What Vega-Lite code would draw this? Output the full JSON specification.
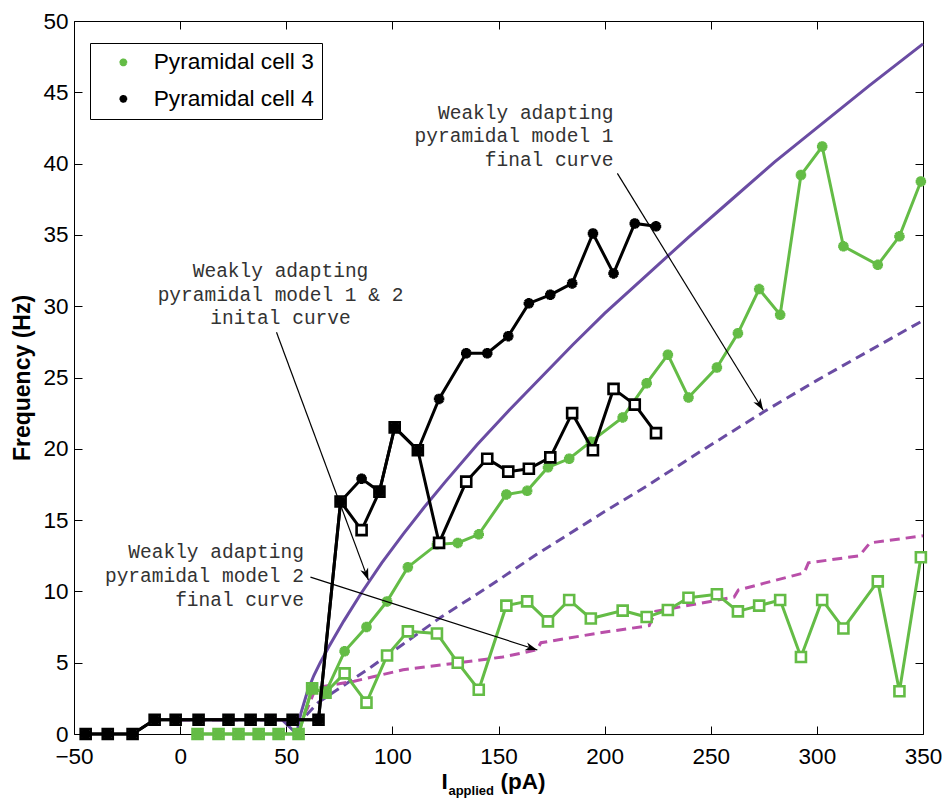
{
  "$schema": "https://vega.github.io/schema/vega-lite/v6.json",
  "width": 849,
  "height": 713,
  "autosize": {"type": "none"},
  "padding": {"left": 74, "top": 21, "right": 19, "bottom": 64},
  "background": "white",
  "config": {
    "view": {"stroke": null},
    "text": {"lineBreak": "\n"},
    "axis": {
      "grid": false,
      "domainColor": "black",
      "domainWidth": 1,
      "tickColor": "black",
      "tickWidth": 1,
      "tickSize": -8,
      "labelFlush": false,
      "labelColor": "black",
      "labelFont": "Liberation Sans",
      "labelFontSize": 22.5,
      "titleFont": "Liberation Sans",
      "titleColor": "black"
    },
    "legend": {
      "orient": "none",
      "legendX": 16,
      "legendY": 22,
      "strokeColor": "black",
      "fillColor": "white",
      "padding": 8,
      "symbolOffset": 14,
      "labelOffset": 19,
      "rowPadding": 12.5,
      "labelFont": "Liberation Sans",
      "labelFontSize": 22.7,
      "labelColor": "black",
      "labelLimit": 400,
      "symbolSize": 60,
      "symbolStrokeWidth": 2.5,
      "symbolType": "M0,-1L0,1M-1,0L1,0M-0.71,-0.71L0.71,0.71M-0.71,0.71L0.71,-0.71"
    }
  },
  "datasets": {
    "cells": [
      {"cell": "Pyramidal cell 4", "phase": "initial", "x": -44.5, "y": 0},
      {"cell": "Pyramidal cell 4", "phase": "initial", "x": -34.1, "y": 0},
      {"cell": "Pyramidal cell 4", "phase": "initial", "x": -22.4, "y": 0},
      {"cell": "Pyramidal cell 4", "phase": "initial", "x": -12.0, "y": 1},
      {"cell": "Pyramidal cell 4", "phase": "initial", "x": -2.1, "y": 1},
      {"cell": "Pyramidal cell 4", "phase": "initial", "x": 8.7, "y": 1},
      {"cell": "Pyramidal cell 4", "phase": "initial", "x": 22.8, "y": 1},
      {"cell": "Pyramidal cell 4", "phase": "initial", "x": 33.2, "y": 1},
      {"cell": "Pyramidal cell 4", "phase": "initial", "x": 42.6, "y": 1},
      {"cell": "Pyramidal cell 4", "phase": "initial", "x": 53.0, "y": 1},
      {"cell": "Pyramidal cell 4", "phase": "initial", "x": 65.2, "y": 1},
      {"cell": "Pyramidal cell 4", "phase": "initial", "x": 75.6, "y": 16.3},
      {"cell": "Pyramidal cell 4", "phase": "initial", "x": 85.5, "y": 17.9},
      {"cell": "Pyramidal cell 4", "phase": "initial", "x": 93.9, "y": 17.0},
      {"cell": "Pyramidal cell 4", "phase": "initial", "x": 101.1, "y": 21.5},
      {"cell": "Pyramidal cell 4", "phase": "initial", "x": 112.0, "y": 19.9},
      {"cell": "Pyramidal cell 4", "phase": "initial", "x": 122.0, "y": 23.5},
      {"cell": "Pyramidal cell 4", "phase": "initial", "x": 134.8, "y": 26.7},
      {"cell": "Pyramidal cell 4", "phase": "initial", "x": 144.7, "y": 26.7},
      {"cell": "Pyramidal cell 4", "phase": "initial", "x": 154.6, "y": 27.9},
      {"cell": "Pyramidal cell 4", "phase": "initial", "x": 164.3, "y": 30.2},
      {"cell": "Pyramidal cell 4", "phase": "initial", "x": 174.4, "y": 30.8},
      {"cell": "Pyramidal cell 4", "phase": "initial", "x": 184.7, "y": 31.6},
      {"cell": "Pyramidal cell 4", "phase": "initial", "x": 194.5, "y": 35.1},
      {"cell": "Pyramidal cell 4", "phase": "initial", "x": 204.2, "y": 32.3},
      {"cell": "Pyramidal cell 4", "phase": "initial", "x": 214.2, "y": 35.8},
      {"cell": "Pyramidal cell 4", "phase": "initial", "x": 224.2, "y": 35.6},
      {"cell": "Pyramidal cell 4", "phase": "final", "x": -44.5, "y": 0},
      {"cell": "Pyramidal cell 4", "phase": "final", "x": -34.1, "y": 0},
      {"cell": "Pyramidal cell 4", "phase": "final", "x": -22.4, "y": 0},
      {"cell": "Pyramidal cell 4", "phase": "final", "x": -12.0, "y": 1},
      {"cell": "Pyramidal cell 4", "phase": "final", "x": -2.1, "y": 1},
      {"cell": "Pyramidal cell 4", "phase": "final", "x": 8.7, "y": 1},
      {"cell": "Pyramidal cell 4", "phase": "final", "x": 22.8, "y": 1},
      {"cell": "Pyramidal cell 4", "phase": "final", "x": 33.2, "y": 1},
      {"cell": "Pyramidal cell 4", "phase": "final", "x": 42.6, "y": 1},
      {"cell": "Pyramidal cell 4", "phase": "final", "x": 53.0, "y": 1},
      {"cell": "Pyramidal cell 4", "phase": "final", "x": 65.2, "y": 1},
      {"cell": "Pyramidal cell 4", "phase": "final", "x": 75.6, "y": 16.3},
      {"cell": "Pyramidal cell 4", "phase": "final", "x": 85.5, "y": 14.3},
      {"cell": "Pyramidal cell 4", "phase": "final", "x": 93.9, "y": 17.0},
      {"cell": "Pyramidal cell 4", "phase": "final", "x": 101.1, "y": 21.5},
      {"cell": "Pyramidal cell 4", "phase": "final", "x": 112.0, "y": 19.9},
      {"cell": "Pyramidal cell 4", "phase": "final", "x": 122.0, "y": 13.4},
      {"cell": "Pyramidal cell 4", "phase": "final", "x": 134.8, "y": 17.7},
      {"cell": "Pyramidal cell 4", "phase": "final", "x": 144.7, "y": 19.3},
      {"cell": "Pyramidal cell 4", "phase": "final", "x": 154.6, "y": 18.4},
      {"cell": "Pyramidal cell 4", "phase": "final", "x": 164.3, "y": 18.6},
      {"cell": "Pyramidal cell 4", "phase": "final", "x": 174.4, "y": 19.4},
      {"cell": "Pyramidal cell 4", "phase": "final", "x": 184.7, "y": 22.5},
      {"cell": "Pyramidal cell 4", "phase": "final", "x": 194.5, "y": 19.9},
      {"cell": "Pyramidal cell 4", "phase": "final", "x": 204.2, "y": 24.2},
      {"cell": "Pyramidal cell 4", "phase": "final", "x": 214.2, "y": 23.1},
      {"cell": "Pyramidal cell 4", "phase": "final", "x": 224.2, "y": 21.1},
      {"cell": "Pyramidal cell 3", "phase": "initial", "x": 8.2, "y": 0},
      {"cell": "Pyramidal cell 3", "phase": "initial", "x": 18.1, "y": 0},
      {"cell": "Pyramidal cell 3", "phase": "initial", "x": 27.5, "y": 0},
      {"cell": "Pyramidal cell 3", "phase": "initial", "x": 37.0, "y": 0},
      {"cell": "Pyramidal cell 3", "phase": "initial", "x": 46.4, "y": 0},
      {"cell": "Pyramidal cell 3", "phase": "initial", "x": 55.8, "y": 0},
      {"cell": "Pyramidal cell 3", "phase": "initial", "x": 62.2, "y": 3.2},
      {"cell": "Pyramidal cell 3", "phase": "initial", "x": 68.5, "y": 2.9},
      {"cell": "Pyramidal cell 3", "phase": "initial", "x": 77.5, "y": 5.8},
      {"cell": "Pyramidal cell 3", "phase": "initial", "x": 87.8, "y": 7.5},
      {"cell": "Pyramidal cell 3", "phase": "initial", "x": 97.5, "y": 9.3},
      {"cell": "Pyramidal cell 3", "phase": "initial", "x": 107.3, "y": 11.7},
      {"cell": "Pyramidal cell 3", "phase": "initial", "x": 121.0, "y": 13.3},
      {"cell": "Pyramidal cell 3", "phase": "initial", "x": 130.8, "y": 13.4},
      {"cell": "Pyramidal cell 3", "phase": "initial", "x": 140.7, "y": 14.0},
      {"cell": "Pyramidal cell 3", "phase": "initial", "x": 153.7, "y": 16.8},
      {"cell": "Pyramidal cell 3", "phase": "initial", "x": 163.5, "y": 17.05},
      {"cell": "Pyramidal cell 3", "phase": "initial", "x": 173.3, "y": 18.7},
      {"cell": "Pyramidal cell 3", "phase": "initial", "x": 183.3, "y": 19.3},
      {"cell": "Pyramidal cell 3", "phase": "initial", "x": 193.5, "y": 20.5},
      {"cell": "Pyramidal cell 3", "phase": "initial", "x": 208.5, "y": 22.2},
      {"cell": "Pyramidal cell 3", "phase": "initial", "x": 219.8, "y": 24.6},
      {"cell": "Pyramidal cell 3", "phase": "initial", "x": 229.8, "y": 26.6},
      {"cell": "Pyramidal cell 3", "phase": "initial", "x": 239.5, "y": 23.6},
      {"cell": "Pyramidal cell 3", "phase": "initial", "x": 252.9, "y": 25.7},
      {"cell": "Pyramidal cell 3", "phase": "initial", "x": 262.8, "y": 28.1},
      {"cell": "Pyramidal cell 3", "phase": "initial", "x": 272.8, "y": 31.2},
      {"cell": "Pyramidal cell 3", "phase": "initial", "x": 282.7, "y": 29.4},
      {"cell": "Pyramidal cell 3", "phase": "initial", "x": 292.5, "y": 39.2},
      {"cell": "Pyramidal cell 3", "phase": "initial", "x": 302.5, "y": 41.2},
      {"cell": "Pyramidal cell 3", "phase": "initial", "x": 312.5, "y": 34.2},
      {"cell": "Pyramidal cell 3", "phase": "initial", "x": 328.7, "y": 32.9},
      {"cell": "Pyramidal cell 3", "phase": "initial", "x": 338.9, "y": 34.9},
      {"cell": "Pyramidal cell 3", "phase": "initial", "x": 349.0, "y": 38.75},
      {"cell": "Pyramidal cell 3", "phase": "final", "x": 8.2, "y": 0},
      {"cell": "Pyramidal cell 3", "phase": "final", "x": 18.1, "y": 0},
      {"cell": "Pyramidal cell 3", "phase": "final", "x": 27.5, "y": 0},
      {"cell": "Pyramidal cell 3", "phase": "final", "x": 37.0, "y": 0},
      {"cell": "Pyramidal cell 3", "phase": "final", "x": 46.4, "y": 0},
      {"cell": "Pyramidal cell 3", "phase": "final", "x": 55.8, "y": 0},
      {"cell": "Pyramidal cell 3", "phase": "final", "x": 62.2, "y": 3.2},
      {"cell": "Pyramidal cell 3", "phase": "final", "x": 68.5, "y": 2.9},
      {"cell": "Pyramidal cell 3", "phase": "final", "x": 77.5, "y": 4.25},
      {"cell": "Pyramidal cell 3", "phase": "final", "x": 87.8, "y": 2.2},
      {"cell": "Pyramidal cell 3", "phase": "final", "x": 97.5, "y": 5.5},
      {"cell": "Pyramidal cell 3", "phase": "final", "x": 107.3, "y": 7.2},
      {"cell": "Pyramidal cell 3", "phase": "final", "x": 121.0, "y": 7.05},
      {"cell": "Pyramidal cell 3", "phase": "final", "x": 130.8, "y": 5.0},
      {"cell": "Pyramidal cell 3", "phase": "final", "x": 140.7, "y": 3.1},
      {"cell": "Pyramidal cell 3", "phase": "final", "x": 153.7, "y": 9.0},
      {"cell": "Pyramidal cell 3", "phase": "final", "x": 163.5, "y": 9.3},
      {"cell": "Pyramidal cell 3", "phase": "final", "x": 173.3, "y": 7.9},
      {"cell": "Pyramidal cell 3", "phase": "final", "x": 183.3, "y": 9.4},
      {"cell": "Pyramidal cell 3", "phase": "final", "x": 193.5, "y": 8.1},
      {"cell": "Pyramidal cell 3", "phase": "final", "x": 208.5, "y": 8.65},
      {"cell": "Pyramidal cell 3", "phase": "final", "x": 219.8, "y": 8.2},
      {"cell": "Pyramidal cell 3", "phase": "final", "x": 229.8, "y": 8.7},
      {"cell": "Pyramidal cell 3", "phase": "final", "x": 239.5, "y": 9.55},
      {"cell": "Pyramidal cell 3", "phase": "final", "x": 252.9, "y": 9.8},
      {"cell": "Pyramidal cell 3", "phase": "final", "x": 262.8, "y": 8.6},
      {"cell": "Pyramidal cell 3", "phase": "final", "x": 272.8, "y": 9.0},
      {"cell": "Pyramidal cell 3", "phase": "final", "x": 282.7, "y": 9.4},
      {"cell": "Pyramidal cell 3", "phase": "final", "x": 292.5, "y": 5.4},
      {"cell": "Pyramidal cell 3", "phase": "final", "x": 302.5, "y": 9.4},
      {"cell": "Pyramidal cell 3", "phase": "final", "x": 312.5, "y": 7.4},
      {"cell": "Pyramidal cell 3", "phase": "final", "x": 328.7, "y": 10.7},
      {"cell": "Pyramidal cell 3", "phase": "final", "x": 338.9, "y": 3.0},
      {"cell": "Pyramidal cell 3", "phase": "final", "x": 349.0, "y": 12.4}
    ],
    "models": [
      {"model": "init", "x": 0, "y": 1},
      {"model": "init", "x": 48, "y": 1},
      {"model": "init", "x": 55, "y": 0},
      {"model": "init", "x": 56, "y": 0.9},
      {"model": "init", "x": 57, "y": 1.5},
      {"model": "init", "x": 58, "y": 2.0},
      {"model": "init", "x": 60, "y": 3.0},
      {"model": "init", "x": 63, "y": 4.1},
      {"model": "init", "x": 66, "y": 5.0},
      {"model": "init", "x": 70, "y": 6.1},
      {"model": "init", "x": 77, "y": 7.9},
      {"model": "init", "x": 85, "y": 9.8},
      {"model": "init", "x": 95, "y": 12.0},
      {"model": "init", "x": 105, "y": 14.0},
      {"model": "init", "x": 115, "y": 15.9},
      {"model": "init", "x": 125, "y": 17.7},
      {"model": "init", "x": 140, "y": 20.3},
      {"model": "init", "x": 155, "y": 22.7},
      {"model": "init", "x": 170, "y": 25.0},
      {"model": "init", "x": 185, "y": 27.3},
      {"model": "init", "x": 200, "y": 29.5},
      {"model": "init", "x": 220, "y": 32.2},
      {"model": "init", "x": 240, "y": 34.9},
      {"model": "init", "x": 260, "y": 37.5},
      {"model": "init", "x": 280, "y": 40.1},
      {"model": "init", "x": 300, "y": 42.5},
      {"model": "init", "x": 325, "y": 45.5},
      {"model": "init", "x": 350, "y": 48.4},
      {"model": "final1", "x": 0, "y": 1},
      {"model": "final1", "x": 57, "y": 1},
      {"model": "final1", "x": 60, "y": 1.4},
      {"model": "final1", "x": 65, "y": 2.2},
      {"model": "final1", "x": 74, "y": 3.1},
      {"model": "final1", "x": 90, "y": 4.7},
      {"model": "final1", "x": 105, "y": 6.3},
      {"model": "final1", "x": 123, "y": 8.2},
      {"model": "final1", "x": 145, "y": 10.3},
      {"model": "final1", "x": 168, "y": 12.6},
      {"model": "final1", "x": 200, "y": 15.6},
      {"model": "final1", "x": 220, "y": 17.4},
      {"model": "final1", "x": 245, "y": 19.8},
      {"model": "final1", "x": 275, "y": 22.6},
      {"model": "final1", "x": 300, "y": 24.8},
      {"model": "final1", "x": 325, "y": 26.9},
      {"model": "final1", "x": 350, "y": 29.0},
      {"model": "final2", "x": 0, "y": 1},
      {"model": "final2", "x": 57, "y": 1},
      {"model": "final2", "x": 60, "y": 1.8},
      {"model": "final2", "x": 63, "y": 2.9},
      {"model": "final2", "x": 66, "y": 3.3},
      {"model": "final2", "x": 82, "y": 3.7},
      {"model": "final2", "x": 105, "y": 4.5},
      {"model": "final2", "x": 129, "y": 4.95},
      {"model": "final2", "x": 152, "y": 5.4},
      {"model": "final2", "x": 168, "y": 5.9},
      {"model": "final2", "x": 170, "y": 6.4},
      {"model": "final2", "x": 198, "y": 7.1},
      {"model": "final2", "x": 221, "y": 7.6},
      {"model": "final2", "x": 224, "y": 8.6},
      {"model": "final2", "x": 261, "y": 9.6},
      {"model": "final2", "x": 263, "y": 10.1},
      {"model": "final2", "x": 294, "y": 11.3},
      {"model": "final2", "x": 296, "y": 12.0},
      {"model": "final2", "x": 320, "y": 12.5},
      {"model": "final2", "x": 325, "y": 13.4},
      {"model": "final2", "x": 350, "y": 13.9}
    ],
    "notes": [
      {"id": "a1", "text": "Weakly adapting\npyramidal model 1 & 2\ninital curve", "x": 47.3, "y": 32.05},
      {"id": "a2", "text": "Weakly adapting\npyramidal model 1\nfinal curve", "x": 204.2, "y": 43.15},
      {"id": "a3", "text": "Weakly adapting\npyramidal model 2\nfinal curve", "x": 58.3, "y": 12.31}
    ],
    "arrows": [
      {"id": "a1", "x": 45.4, "y": 28.17, "x2": 88.7, "y2": 10.79},
      {"id": "a2", "x": 206.0, "y": 39.31, "x2": 274.7, "y2": 22.7},
      {"id": "a3", "x": 61.4, "y": 11.0, "x2": 168.3, "y2": 5.89}
    ],
    "xtitle": [
      {"part": "big", "text": "I", "x": 123.1, "y": -3.85},
      {"part": "sub", "text": "applied", "x": 126.4, "y": -4.3},
      {"part": "big", "text": "(pA)", "x": 150.9, "y": -3.85}
    ]
  },
  "encoding": {
    "x": {"field": "x", "type": "quantitative", "scale": {"domain": [-50, 350], "nice": false, "zero": false}, "axis": null},
    "y": {"field": "y", "type": "quantitative", "scale": {"domain": [0, 50], "nice": false, "zero": false}, "axis": null}
  },
  "resolve": {"axis": {"x": "independent", "y": "independent"}},
  "layer": [
    {
      "data": {"name": "models"},
      "transform": [{"filter": "datum.model === 'init'"}],
      "mark": {"type": "line", "color": "#6a4ca3", "strokeWidth": 3},
      "encoding": {
        "x": {"field": "x", "type": "quantitative", "axis": {"orient": "bottom", "values": [-50, 0, 50, 100, 150, 200, 250, 300, 350], "labelPadding": 19, "title": null}},
        "y": {"field": "y", "type": "quantitative", "axis": {"orient": "left", "values": [0, 5, 10, 15, 20, 25, 30, 35, 40, 45, 50], "labelPadding": 14, "title": "Frequency (Hz)", "titleFontSize": 23, "titleFontWeight": "bold", "titlePadding": 8}}
      }
    },
    {
      "data": {"name": "models"},
      "transform": [{"filter": "datum.model === 'final1'"}],
      "mark": {"type": "line", "color": "#6a4ca3", "strokeWidth": 3, "strokeDash": [10, 6]},
      "encoding": {
        "x": {"field": "x", "type": "quantitative", "axis": {"orient": "top", "values": [-50, 0, 50, 100, 150, 200, 250, 300, 350], "labels": false, "title": null}},
        "y": {"field": "y", "type": "quantitative", "axis": {"orient": "right", "values": [0, 5, 10, 15, 20, 25, 30, 35, 40, 45, 50], "labels": false, "title": null}}
      }
    },
    {
      "data": {"name": "models"},
      "transform": [{"filter": "datum.model === 'final2'"}],
      "mark": {"type": "line", "color": "#b94fa9", "strokeWidth": 3, "strokeDash": [10, 6]}
    },
    {
      "data": {"name": "cells"},
      "transform": [{"filter": "datum.cell === 'Pyramidal cell 3'"}],
      "mark": {"type": "line", "color": "#64bc46", "strokeWidth": 3},
      "encoding": {"detail": {"field": "phase"}}
    },
    {
      "data": {"name": "cells"},
      "transform": [{"filter": "datum.cell === 'Pyramidal cell 3' && datum.phase === 'final'"}],
      "mark": {"type": "point", "shape": "square", "size": 100, "filled": true, "fill": "white", "stroke": "#64bc46", "strokeWidth": 2.6, "opacity": 1}
    },
    {
      "data": {"name": "cells"},
      "transform": [{"filter": "datum.cell === 'Pyramidal cell 3' && datum.phase === 'initial'"}],
      "mark": {"type": "point", "shape": "M0,-1L0,1M-1,0L1,0M-0.71,-0.71L0.71,0.71M-0.71,0.71L0.71,-0.71", "size": 110, "filled": false, "strokeWidth": 3.4, "opacity": 1},
      "encoding": {
        "color": {"field": "cell", "type": "nominal", "scale": {"domain": ["Pyramidal cell 3", "Pyramidal cell 4"], "range": ["#64bc46", "#000000"]}, "legend": {"title": null}}
      }
    },
    {
      "data": {"name": "cells"},
      "transform": [{"filter": "datum.cell === 'Pyramidal cell 4'"}],
      "mark": {"type": "line", "color": "#000000", "strokeWidth": 3},
      "encoding": {"detail": {"field": "phase"}}
    },
    {
      "data": {"name": "cells"},
      "transform": [{"filter": "datum.cell === 'Pyramidal cell 4' && datum.phase === 'final'"}],
      "mark": {"type": "point", "shape": "square", "size": 100, "filled": true, "fill": "white", "stroke": "#000000", "strokeWidth": 2.6, "opacity": 1}
    },
    {
      "data": {"name": "cells"},
      "transform": [{"filter": "datum.cell === 'Pyramidal cell 4' && datum.phase === 'initial'"}],
      "mark": {"type": "point", "shape": "M0,-1L0,1M-1,0L1,0M-0.71,-0.71L0.71,0.71M-0.71,0.71L0.71,-0.71", "size": 110, "filled": false, "strokeWidth": 3.4, "opacity": 1},
      "encoding": {
        "color": {"field": "cell", "type": "nominal", "scale": {"domain": ["Pyramidal cell 3", "Pyramidal cell 4"], "range": ["#64bc46", "#000000"]}, "legend": {"title": null}}
      }
    },
    {
      "data": {"name": "arrows"},
      "mark": {"type": "rule", "color": "black", "strokeWidth": 1.2},
      "encoding": {"x2": {"field": "x2"}, "y2": {"field": "y2"}}
    },
    {
      "data": {"name": "arrows"},
      "transform": [{"filter": "datum.id === 'a1'"}],
      "mark": {"type": "point", "shape": "M0,0L0.55,1.6L0,1.15L-0.55,1.6Z", "size": 225, "filled": true, "color": "black", "opacity": 1, "angle": 159.65},
      "encoding": {"x": {"field": "x2", "type": "quantitative"}, "y": {"field": "y2", "type": "quantitative"}}
    },
    {
      "data": {"name": "arrows"},
      "transform": [{"filter": "datum.id === 'a2'"}],
      "mark": {"type": "point", "shape": "M0,0L0.55,1.6L0,1.15L-0.55,1.6Z", "size": 225, "filled": true, "color": "black", "opacity": 1, "angle": 148.4},
      "encoding": {"x": {"field": "x2", "type": "quantitative"}, "y": {"field": "y2", "type": "quantitative"}}
    },
    {
      "data": {"name": "arrows"},
      "transform": [{"filter": "datum.id === 'a3'"}],
      "mark": {"type": "point", "shape": "M0,0L0.55,1.6L0,1.15L-0.55,1.6Z", "size": 225, "filled": true, "color": "black", "opacity": 1, "angle": 107.8},
      "encoding": {"x": {"field": "x2", "type": "quantitative"}, "y": {"field": "y2", "type": "quantitative"}}
    },
    {
      "data": {"name": "notes"},
      "transform": [{"filter": "datum.id === 'a1'"}],
      "mark": {"type": "text", "font": "Liberation Mono", "fontSize": 19.5, "lineHeight": 23.7, "align": "center", "baseline": "alphabetic", "color": "#333333"},
      "encoding": {"text": {"field": "text"}}
    },
    {
      "data": {"name": "notes"},
      "transform": [{"filter": "datum.id !== 'a1'"}],
      "mark": {"type": "text", "font": "Liberation Mono", "fontSize": 19.5, "lineHeight": 23.7, "align": "right", "baseline": "alphabetic", "color": "#333333"},
      "encoding": {"text": {"field": "text"}}
    },
    {
      "data": {"name": "xtitle"},
      "transform": [{"filter": "datum.part === 'big'"}],
      "mark": {"type": "text", "font": "Liberation Sans", "fontSize": 22.5, "fontWeight": "bold", "align": "left", "baseline": "alphabetic", "color": "black"},
      "encoding": {"text": {"field": "text"}}
    },
    {
      "data": {"name": "xtitle"},
      "transform": [{"filter": "datum.part === 'sub'"}],
      "mark": {"type": "text", "font": "Liberation Sans", "fontSize": 13, "fontWeight": "bold", "align": "left", "baseline": "alphabetic", "color": "black"},
      "encoding": {"text": {"field": "text"}}
    }
  ]
}
